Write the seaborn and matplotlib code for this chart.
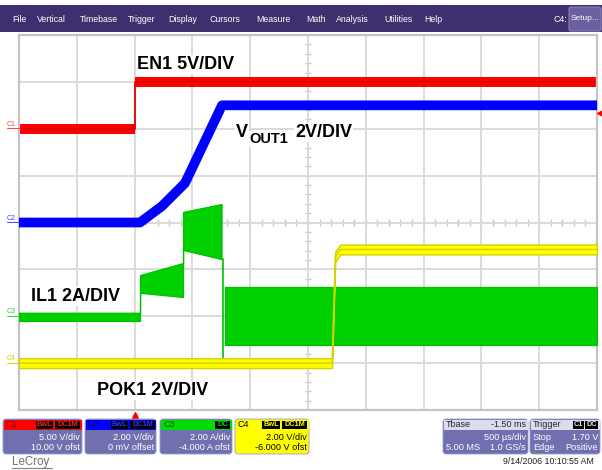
import numpy as np
import pandas as pd
import matplotlib
matplotlib.use("Agg")
import matplotlib.pyplot as plt
from matplotlib.patches import Rectangle, FancyBboxPatch
import seaborn as sns

sns.set_style("white")
plt.rcParams["font.family"] = ["Liberation Sans", "DejaVu Sans"]

# ---------------------------------------------------------------- timebase
T_START = -1.0      # ms at left edge of screen
T_DIV = 0.5         # ms per division (500 us/div)
N_XDIV, N_YDIV = 10, 8

# ---------------------------------------------------------------- channels
channels = ["C1", "C2", "C3", "C4"]
ch_scale = {"C1": 5.0, "C2": 2.0, "C3": 2.0, "C4": 2.0}      # units / div
ch_offset = {"C1": 10.0, "C2": 0.0, "C3": -4.0, "C4": -6.0}  # units
ch_color = {"C1": "#ff0000", "C2": "#0000ff", "C3": "#00d000", "C4": "#ffff00"}
ch_edge = {"C1": "#e00000", "C2": "#0000e6", "C3": "#00c000", "C4": "#d2d200"}

# C1: EN1 (V)
en1_t = [-1.0, 0.0, 0.0, 4.0]
en1_v = [0.0, 0.0, 5.0, 5.0]
en1_noise = 0.55

# C2: VOUT1 (V), soft-start ramp
vout_t = [-1.0, 0.047, 0.237, 0.436, 0.756, 4.0]
vout_v = [0.0, 0.0, 0.70, 1.68, 5.0, 5.0]

# C3: IL1 (A), ripple envelope per segment
il_t = [-1.0, 0.047, 0.047, 0.419, 0.419, 0.752, 0.780, 4.0]
il_hi = [0.15, 0.15, 1.76, 2.27, 4.45, 4.79, 1.25, 1.25]
il_lo = [-0.20, -0.20, 1.00, 0.82, 2.83, 2.44, -1.22, -1.22]
il_seg = [0, 0, 0, 0, 0, 0, 1, 1]
il_drop_t = [0.766, 0.766]
il_drop_v = [2.44, -1.78]

# C4: POK1 (V)
pok_t = [-1.0, 1.708, 1.736, 1.780, 4.0]
pok_v = [0.0, 0.0, 4.55, 4.85, 4.85]
pok_noise = 0.21

# trigger: C1 edge, positive, level 1.70 V at t = 0
trig_t, trig_level = 0.0, 1.70

# text labels for the traces
trace_labels = ["EN1 5V/DIV", "IL1 2A/DIV", "POK1 2V/DIV"]


def to_div(ch, v):
    return (np.asarray(v, dtype=float) + ch_offset[ch]) / ch_scale[ch]


W, H = 602, 470
L, R, TOP, BOT = 19, 597, 35, 410

fig = plt.figure(figsize=(W / 100, H / 100), dpi=100)
fig.patch.set_facecolor("white")

ax = fig.add_axes([L / W, 1 - BOT / H, (R - L) / W, (BOT - TOP) / H])
t_end = T_START + N_XDIV * T_DIV
ax.set_xlim(T_START, t_end)
ax.set_ylim(-N_YDIV / 2, N_YDIV / 2)
ax.set_xticks(T_START + np.arange(N_XDIV + 1) * T_DIV)
ax.set_yticks(np.arange(-N_YDIV / 2, N_YDIV / 2 + 1))
ax.tick_params(length=0, labelbottom=False, labelleft=False)
ax.grid(True, color="#dadada", lw=1.4)
ax.set_axisbelow(True)
for sp in ax.spines.values():
    sp.set_color("#c4c4c4")
    sp.set_linewidth(1.6)

# graticule minor ticks on the centre cross
t_mid = T_START + N_XDIV * T_DIV / 2
minor_t = T_START + np.arange(1, N_XDIV * 5) * T_DIV / 5
minor_y = np.arange(-N_YDIV / 2 * 5 + 1, N_YDIV / 2 * 5) / 5
ax.vlines(minor_t, -0.065, 0.065, color="#c8c8c8", lw=1, zorder=0.5)
ax.hlines(minor_y, t_mid - 0.028, t_mid + 0.028, color="#c8c8c8", lw=1, zorder=0.5)

# C1 EN1
y1 = to_div("C1", en1_v)
ax.fill_between(en1_t, y1 - en1_noise / ch_scale["C1"], y1 + en1_noise / ch_scale["C1"],
                color=ch_color["C1"], lw=0, zorder=2)
sns.lineplot(x=en1_t, y=y1, ax=ax, color=ch_edge["C1"], lw=1.3, sort=False,
             estimator=None, zorder=2)

# C2 VOUT1
df2 = pd.DataFrame({"t": vout_t, "div": to_div("C2", vout_v)})
sns.lineplot(data=df2, x="t", y="div", ax=ax, color=ch_color["C2"], lw=7.0,
             sort=False, estimator=None, solid_capstyle="butt",
             solid_joinstyle="round", zorder=3)

# C3 IL1
df3 = pd.DataFrame({"t": il_t, "hi": to_div("C3", il_hi),
                    "lo": to_div("C3", il_lo), "seg": il_seg})
for _, g in df3.groupby("seg"):
    ax.fill_between(g["t"], g["lo"], g["hi"], color=ch_color["C3"],
                    edgecolor=ch_edge["C3"], lw=0.9, zorder=4)
sns.lineplot(x=il_drop_t, y=to_div("C3", il_drop_v), ax=ax, color=ch_edge["C3"],
             lw=1.2, sort=False, estimator=None, zorder=4)

# C4 POK1
y4 = to_div("C4", pok_v)
ax.fill_between(pok_t, y4 - pok_noise / ch_scale["C4"], y4 + pok_noise / ch_scale["C4"],
                color=ch_color["C4"], edgecolor=ch_edge["C4"], lw=1.0, zorder=5)
sns.lineplot(x=pok_t, y=y4, ax=ax, color=ch_edge["C4"], lw=1.0, sort=False,
             estimator=None, zorder=5)

# trigger position and level markers
ax.plot([trig_t], [-N_YDIV / 2 - 0.11], marker="^", ms=5, color="#ff0000",
        clip_on=False, lw=0, zorder=6)
ax.plot([t_end + 0.03], [to_div("C1", trig_level)], marker="<", ms=4,
        color="#ff0000", clip_on=False, lw=0, zorder=6)

# ---------------------------------------------------------------- screen UI
ui = fig.add_axes([0, 0, 1, 1])
ui.set_xlim(0, W)
ui.set_ylim(H, 0)
ui.axis("off")
ui.set_zorder(5)


def px_y(ch, v):
    return 222.5 - float(to_div(ch, v)) * (BOT - TOP) / N_YDIV


# channel ground tags at the left edge
tag_col = {"C1": "#ff4040", "C2": "#4040ff", "C3": "#30d030", "C4": "#d0d000"}
for ch in channels:
    yy = px_y(ch, 0.0) - 4.5
    ui.text(7, yy, ch, fontsize=5, color=tag_col[ch], va="center", ha="left")
    ui.plot([7, 19], [yy + 4, yy + 4], color=tag_col[ch], lw=0.7)

# trace labels
lbl = dict(fontsize=13, fontweight="bold", color="black", va="baseline", ha="left",
           bbox=dict(fc="white", ec="none", pad=0.5))
ui.text(137, 69, trace_labels[0], **lbl)
ui.text(236, 137, "V", **lbl)
ui.text(249.5, 143, "OUT1", **{**lbl, "fontsize": 10.5})
ui.text(295, 137, "2V/DIV", **lbl)
ui.text(31, 301, trace_labels[1], **lbl)
ui.text(97, 395, trace_labels[2], **lbl)

# menu bar
ui.add_patch(Rectangle((0, 5), W, 27, color="#3f2f6f", lw=0))
menu = ["File", "Vertical", "Timebase", "Trigger", "Display", "Cursors", "Measure",
        "Math", "Analysis", "Utilities", "Help"]
menu_x = [12, 37, 80, 128, 168, 210, 256, 306, 336, 384, 424]
for m, mx in zip(menu, menu_x):
    ui.text(mx, 19, m, fontsize=6.3, color="white", va="center", ha="left")
ui.text(553, 19, "C4:", fontsize=6.3, color="white", va="center", ha="left")
ui.add_patch(FancyBboxPatch((569, 7), 32, 24, boxstyle="round,pad=0,rounding_size=2",
                            fc="#6b5f9f", ec="#8a80b8", lw=0.8))
ui.text(585, 19, "Setup...", fontsize=6.0, color="white", va="center", ha="center")

BODY = "#7070b0"


def chip(x0, x1, text, tcolor):
    ui.add_patch(Rectangle((x0, 420.5), x1 - x0, 8, color="black", lw=0))
    ui.text((x0 + x1) / 2, 424.8, text, fontsize=5.3, color=tcolor, va="center",
            ha="center", fontweight="bold")


def channel_box(x0, x1, head, name, name_col, chips, rows, body=BODY, tcol="white"):
    ui.add_patch(FancyBboxPatch((x0, 419), x1 - x0, 35,
                                boxstyle="round,pad=0,rounding_size=3",
                                fc=body, ec="#9a9ad0", lw=0.6))
    ui.add_patch(Rectangle((x0 + 0.5, 419.5), x1 - x0 - 1, 10, color=head, lw=0))
    ui.text(x0 + 3, 424.8, name, fontsize=6.5, color=name_col, va="center", ha="left")
    for cx0, cx1, ctext, ccol in chips:
        chip(cx0, cx1, ctext, ccol)
    for (txt_l, txt_r), yy in zip(rows, (437, 447.5)):
        if txt_l:
            ui.text(x0 + 3, yy, txt_l, fontsize=6.6, color=tcol, va="center", ha="left")
        ui.text(x1 - 2, yy, txt_r, fontsize=6.6, color=tcol, va="center", ha="right")


channel_box(3, 82, "#ff0000", "C1", "#8b0000",
            [(36, 53, "BwL", "#ff2020"), (55, 80, "DC1M", "#ff2020")],
            [("", "5.00 V/div"), ("", "10.00 V ofst")])
channel_box(85, 156, "#0000ff", "C2", "#000080",
            [(111, 128, "BwL", "#3030ff"), (130, 155, "DC1M", "#3030ff")],
            [("", "2.00 V/div"), ("", "0 mV offset")])
channel_box(160, 232, "#00dd00", "C3", "#006000",
            [(215, 230, "DC", "#00dd00")],
            [("", "2.00 A/div"), ("", "-4.000 A ofst")])
channel_box(235, 309, "#ffff00", "C4", "black",
            [(262, 280, "BwL", "#ffff00"), (282, 307, "DC1M", "#ffff00")],
            [("", "2.00 V/div"), ("", "-6.000 V ofst")], body="#ffff00", tcol="black")

channel_box(443, 528, "#dcdcea", "Tbase", "#202040", [],
            [("", "500 µs/div"), ("5.00 MS", "1.0 GS/s")])
ui.text(526, 424.8, "-1.50 ms", fontsize=6.5, color="#202040", va="center", ha="right")
channel_box(530, 600, "#dcdcea", "Trigger", "#202040",
            [(573, 584, "C1", "#e0e0e0"), (585, 598, "DC", "#e0e0e0")],
            [("Stop", "1.70 V"), ("Edge", "Positive")])

# footer
ui.text(594, 462, "9/14/2006 10:10:55 AM", fontsize=6.3, color="#202020",
        va="center", ha="right")
ui.text(12, 461.5, "LeCroy", fontsize=8.3, color="#707070", va="center", ha="left")
ui.plot([12, 52], [467.5, 467.5], color="#8a8a8a", lw=0.9)

fig.savefig("out.png", dpi=100, facecolor="white")
